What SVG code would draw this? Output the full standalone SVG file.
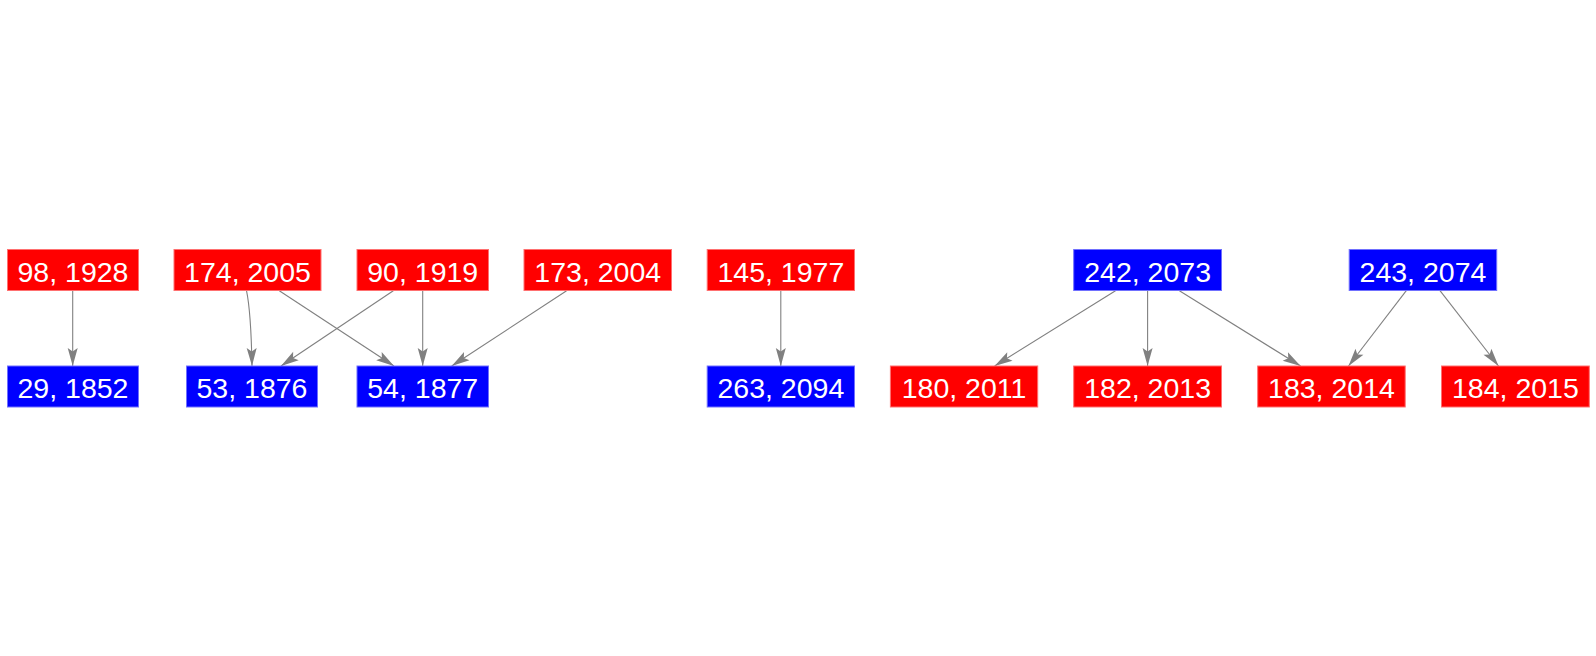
<svg xmlns="http://www.w3.org/2000/svg" width="1596" height="656" viewBox="0 0 1596 656">
<style>
.r rect{fill:#ff0000;stroke:#ff7070;stroke-width:1}
.b rect{fill:#0000ff;stroke:#7070ff;stroke-width:1}
text{font-family:"Liberation Sans",Arial,sans-serif;font-size:28.5px;fill:#ffffff;text-anchor:middle}
.e path{fill:none;stroke:#808080;stroke-width:1.1;marker-end:url(#ah)}
</style>
<defs>
<marker id="ah" markerUnits="userSpaceOnUse" viewBox="-19 -6 20 12" refX="0" refY="0" markerWidth="20" markerHeight="12" orient="auto">
<path d="M0,0 L-18,-5 L-14.5,0 L-18,5 Z" fill="#808080"/>
</marker>
</defs>
<rect width="1596" height="656" fill="#ffffff"/>
<g id="edges" class="e">
<path d="M72.7,290.7 L72.7,366"/>
<path d="M246.5,290.7 Q251,312 252,366"/>
<path d="M279.3,290.7 L394,366"/>
<path d="M393.3,290.7 L281,366"/>
<path d="M422.7,290.7 L422.7,366"/>
<path d="M566.6,290.7 L451.7,366"/>
<path d="M780.8,290.7 L780.8,366"/>
<path d="M1115.5,290.7 L994.6,366"/>
<path d="M1147.6,290.7 L1147.6,366"/>
<path d="M1179.4,290.7 L1300.6,366"/>
<path d="M1406.3,290.7 L1348.5,366"/>
<path d="M1440,290.7 L1498.5,366"/>
</g>
<g id="n98" class="r"><rect x="7.5" y="249.5" width="131" height="41"/><text x="73" y="281.5">98, 1928</text></g>
<g id="n174" class="r"><rect x="174" y="249.5" width="147" height="41"/><text x="247.5" y="281.5">174, 2005</text></g>
<g id="n90" class="r"><rect x="357" y="249.5" width="131.5" height="41"/><text x="422.75" y="281.5">90, 1919</text></g>
<g id="n173" class="r"><rect x="524" y="249.5" width="147.5" height="41"/><text x="597.75" y="281.5">173, 2004</text></g>
<g id="n145" class="r"><rect x="707.2" y="249.5" width="147.3" height="41"/><text x="780.85" y="281.5">145, 1977</text></g>
<g id="n242" class="b"><rect x="1073.7" y="249.5" width="147.8" height="41"/><text x="1147.6" y="281.5">242, 2073</text></g>
<g id="n243" class="b"><rect x="1349.2" y="249.5" width="147.5" height="41"/><text x="1422.95" y="281.5">243, 2074</text></g>
<g id="n29" class="b"><rect x="7.5" y="366" width="131" height="41"/><text x="73" y="398">29, 1852</text></g>
<g id="n53" class="b"><rect x="186.5" y="366" width="131" height="41"/><text x="252" y="398">53, 1876</text></g>
<g id="n54" class="b"><rect x="357" y="366" width="131.5" height="41"/><text x="422.75" y="398">54, 1877</text></g>
<g id="n263" class="b"><rect x="707.2" y="366" width="147.3" height="41"/><text x="780.85" y="398">263, 2094</text></g>
<g id="n180" class="r"><rect x="890.4" y="366" width="147.3" height="41"/><text x="964.05" y="398">180, 2011</text></g>
<g id="n182" class="r"><rect x="1073.7" y="366" width="147.8" height="41"/><text x="1147.6" y="398">182, 2013</text></g>
<g id="n183" class="r"><rect x="1257.7" y="366" width="147.5" height="41"/><text x="1331.45" y="398">183, 2014</text></g>
<g id="n184" class="r"><rect x="1441.5" y="366" width="147.8" height="41"/><text x="1515.4" y="398">184, 2015</text></g>
</svg>
